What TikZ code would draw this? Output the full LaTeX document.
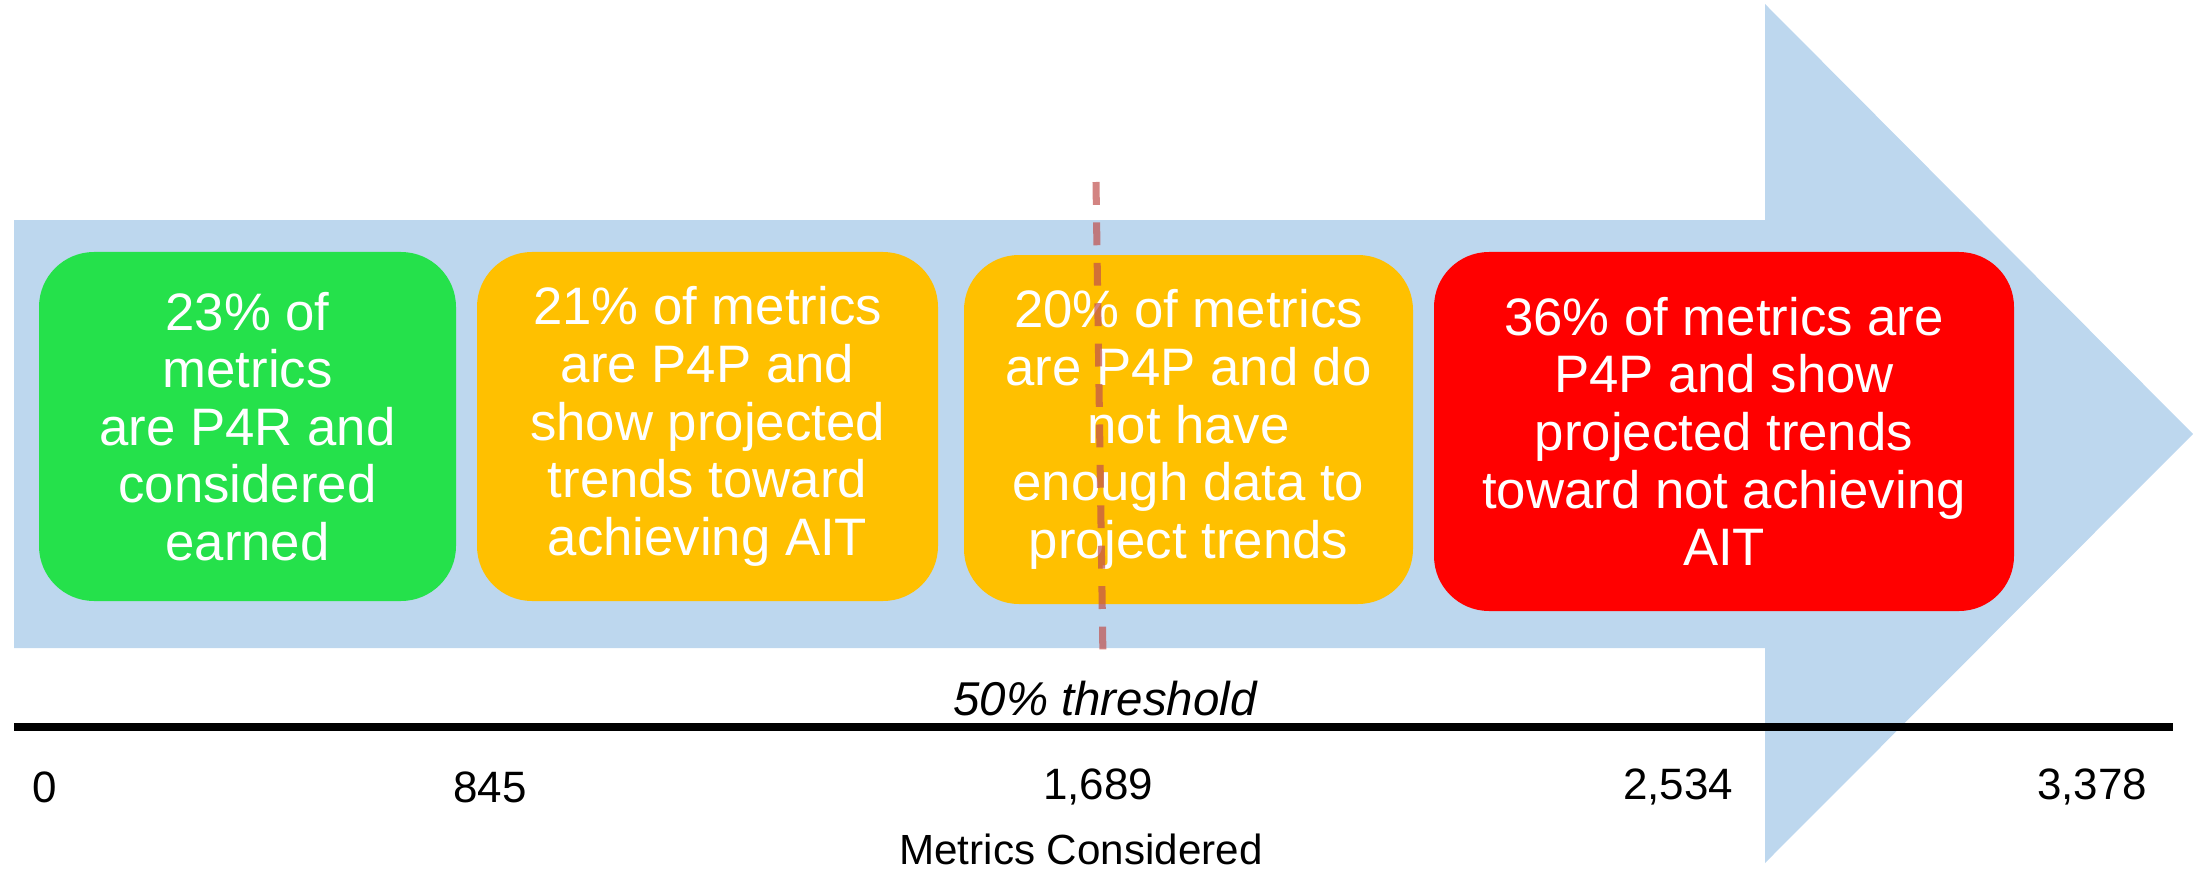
\documentclass[tikz,border=0pt]{standalone}
\usepackage{fontspec}
\setmainfont{Liberation Sans}
\definecolor{arrowblue}{HTML}{BDD7EE}
\definecolor{earnedgreen}{HTML}{25E14B}
\definecolor{trendorange}{HTML}{FFC000}
\definecolor{missred}{HTML}{FF0000}
\definecolor{thrline}{HTML}{C0504D}
\begin{document}
\begin{tikzpicture}[
    box/.style={rounded corners=0.55cm, inner sep=0pt, text=white, align=center,
        minimum height=3.49cm, font=\fontsize{15}{16.4}\selectfont},
    tick/.style={font=\fontsize{12.5}{14}\selectfont},
  ]
  \useasboundingbox (0,0) rectangle (21.93,8.71);
  % big arrow in the back
  \fill[arrowblue] (0.14,6.51) -- (17.65,6.51) -- (17.65,8.67) -- (21.93,4.37)
      -- (17.65,0.08) -- (17.65,2.23) -- (0.14,2.23) -- cycle;
  % the four groups
  \node[box, fill=earnedgreen, minimum width=4.17cm] (earned) at (2.475,4.445)
      {23\% of\\metrics\\are P4R and\\considered\\earned};
  \node[box, fill=trendorange, minimum width=4.61cm] (ontrack) at (7.075,4.445)
      {21\% of metrics\\are P4P and\\show projected\\trends toward\\achieving AIT};
  \node[box, fill=trendorange, minimum width=4.49cm] (nodata) at (11.885,4.415)
      {20\% of metrics\\are P4P and do\\not have\\enough data to\\project trends};
  \node[box, fill=missred, minimum width=5.80cm, minimum height=3.59cm] (offtrack) at (17.24,4.395)
      {36\% of metrics are\\P4P and show\\projected trends\\toward not achieving\\AIT};
  % threshold
  \coordinate (thrtop) at (10.96,6.89);
  \coordinate (thrbot) at (11.03,2.11);
  \draw[thrline, opacity=0.7, line width=2pt, dash pattern=on 6.5pt off 5pt] (thrtop) -- (thrbot);
  \node[font=\fontsize{13.5}{15}\itshape] (thr) at (11.05,1.72) {50\% threshold};
  % axis
  \coordinate (axl) at (0.14,1.44);
  \coordinate (axr) at (21.73,1.44);
  \draw[line width=2pt] (axl) -- (axr);
  \node[tick] (t0) at (0.45,0.84) {0};
  \node[tick] (t1) at (4.90,0.84) {845};
  \node[tick] (t2) at (10.98,0.84) {1,689};
  \node[tick] (t3) at (16.78,0.84) {2,534};
  \node[tick] (t4) at (20.92,0.84) {3,378};
  \node[font=\fontsize{12}{14}\selectfont] (xlabel) at (10.81,0.22) {Metrics Considered};
\end{tikzpicture}
\end{document}
